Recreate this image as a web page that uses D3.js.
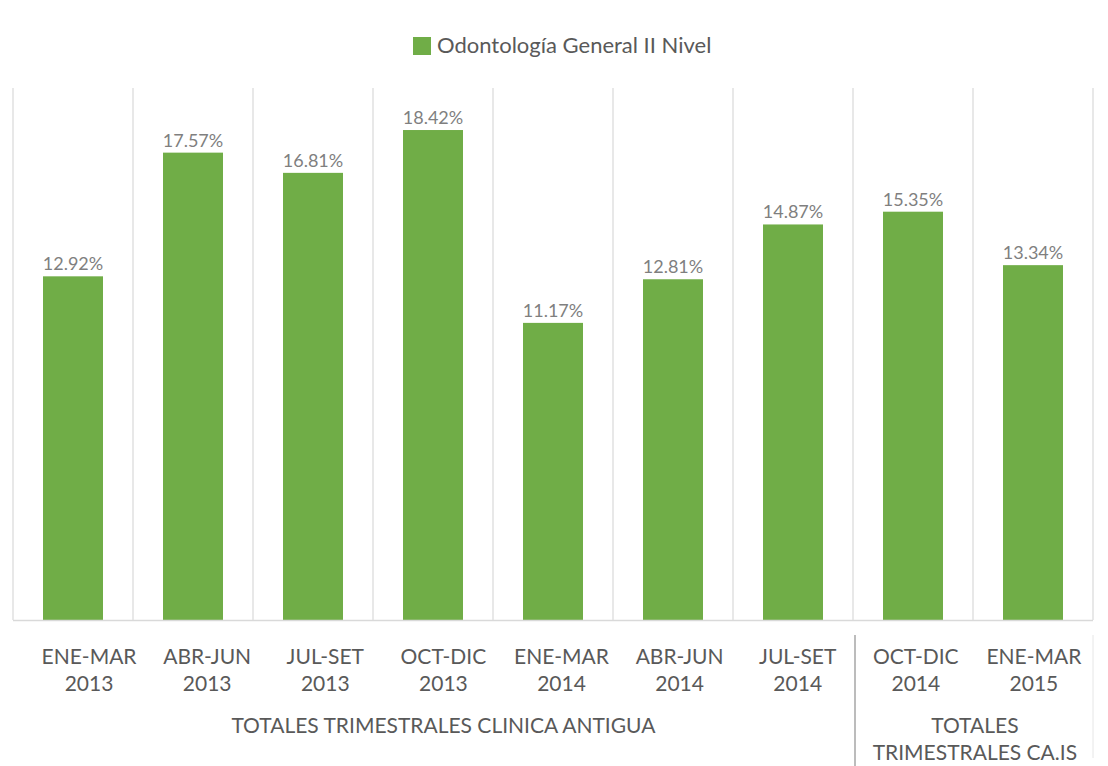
<!DOCTYPE html>
<html>
<head>
<meta charset="utf-8">
<script src="https://cdn.jsdelivr.net/npm/d3@7"></script>
<style>
  body { margin: 0; background: #fff; }
  svg text { font-family: Lato, "Open Sans", sans-serif; }
</style>
</head>
<body>
<div id="chart"></div>
<script>
var quarters = ["ENE-MAR", "ABR-JUN", "JUL-SET", "OCT-DIC", "ENE-MAR", "ABR-JUN", "JUL-SET", "OCT-DIC", "ENE-MAR"];
var years = ["2013", "2013", "2013", "2013", "2014", "2014", "2014", "2014", "2015"];
var values = [12.92, 17.57, 16.81, 18.42, 11.17, 12.81, 14.87, 15.35, 13.34];
var groupNames = [["TOTALES TRIMESTRALES CLINICA ANTIGUA"], ["TOTALES", "TRIMESTRALES CA.IS"]];
var groupSizes = [7, 2];
var seriesName = "Odontología General II Nivel";

var width = 1108, height = 766;
var plotLeft = 13, plotRight = 1093, plotTop = 88, plotBottom = 620;
var barColor = "#70ad47";
var labelColor = "#595959";

var svg = d3.select("#chart").append("svg")
	.attr("width", width)
	.attr("height", height);

var idx = d3.range(values.length);

var x = d3.scaleBand()
	.domain(idx)
	.range([plotLeft, plotRight])
	.paddingInner(0.5)
	.paddingOuter(0.25);

// category text sits a little to the right of the bars, as in the source
var xLabel = d3.scaleBand()
	.domain(idx)
	.range([30, plotRight]);

var y = d3.scaleLinear()
	.domain([0, 20])
	.range([plotBottom, plotTop]);

// vertical gridlines between categories
var step = x.step();
var edges = d3.range(values.length + 1).map(function(i) { return plotLeft + i * step; });

svg.append("g")
	.selectAll("line")
	.data(edges)
	.enter()
	.append("line")
	.attr("x1", function(d) { return d; })
	.attr("x2", function(d) { return d; })
	.attr("y1", y(20))
	.attr("y2", y(0))
	.attr("stroke", "#d9d9d9")
	.attr("stroke-width", 1.2);

// bars
svg.append("g")
	.selectAll("rect")
	.data(values)
	.enter()
	.append("rect")
	.attr("x", function(d, i) { return x(i); })
	.attr("y", function(d) { return y(d); })
	.attr("width", x.bandwidth())
	.attr("height", function(d) { return y(0) - y(d); })
	.attr("fill", barColor);

// baseline
svg.append("line")
	.attr("x1", plotLeft)
	.attr("x2", plotRight)
	.attr("y1", y(0) + 0.5)
	.attr("y2", y(0) + 0.5)
	.attr("stroke", "#d9d9d9")
	.attr("stroke-width", 1.5);

// data labels
svg.append("g")
	.selectAll("text")
	.data(values)
	.enter()
	.append("text")
	.attr("x", function(d, i) { return x(i) + x.bandwidth() / 2; })
	.attr("y", function(d) { return y(d) - 6; })
	.attr("text-anchor", "middle")
	.attr("fill", "#7f7f7f")
	.style("font-size", "18px")
	.text(function(d) { return d.toFixed(2) + "%"; });

// category labels (two lines)
var cat = svg.append("g")
	.selectAll("text")
	.data(idx)
	.enter()
	.append("text")
	.attr("text-anchor", "middle")
	.attr("fill", labelColor)
	.style("font-size", "21px");

cat.append("tspan")
	.attr("x", function(i) { return xLabel(i) + xLabel.bandwidth() / 2; })
	.attr("y", 664)
	.text(function(i) { return quarters[i]; });

cat.append("tspan")
	.attr("x", function(i) { return xLabel(i) + xLabel.bandwidth() / 2; })
	.attr("y", 691)
	.text(function(i) { return years[i]; });

// group labels
var start = 0;
groupSizes.forEach(function(n, g) {
	var gx = xLabel(start) + n * xLabel.step() / 2;
	var t = svg.append("text")
		.attr("text-anchor", "middle")
		.attr("fill", labelColor)
		.style("font-size", "21px");
	groupNames[g].forEach(function(line, k) {
		t.append("tspan")
			.attr("x", gx)
			.attr("y", 733 + k * 27)
			.text(line);
	});
	start += n;
});

// group separators below axis
svg.append("line")
	.attr("x1", edges[7] + 2).attr("x2", edges[7] + 2)
	.attr("y1", 635).attr("y2", height)
	.attr("stroke", "#a6a6a6")
	.attr("stroke-width", 1.5);

svg.append("line")
	.attr("x1", edges[9]).attr("x2", edges[9])
	.attr("y1", 635).attr("y2", 758)
	.attr("stroke", "#e6e6e6")
	.attr("stroke-width", 1);

// legend
var legend = svg.append("g").attr("transform", "translate(413,37)");
legend.append("rect")
	.attr("width", 18)
	.attr("height", 18)
	.attr("fill", barColor);
legend.append("text")
	.attr("x", 24)
	.attr("y", 16)
	.attr("fill", labelColor)
	.style("font-size", "22px")
	.text(seriesName);
</script>
</body>
</html>
